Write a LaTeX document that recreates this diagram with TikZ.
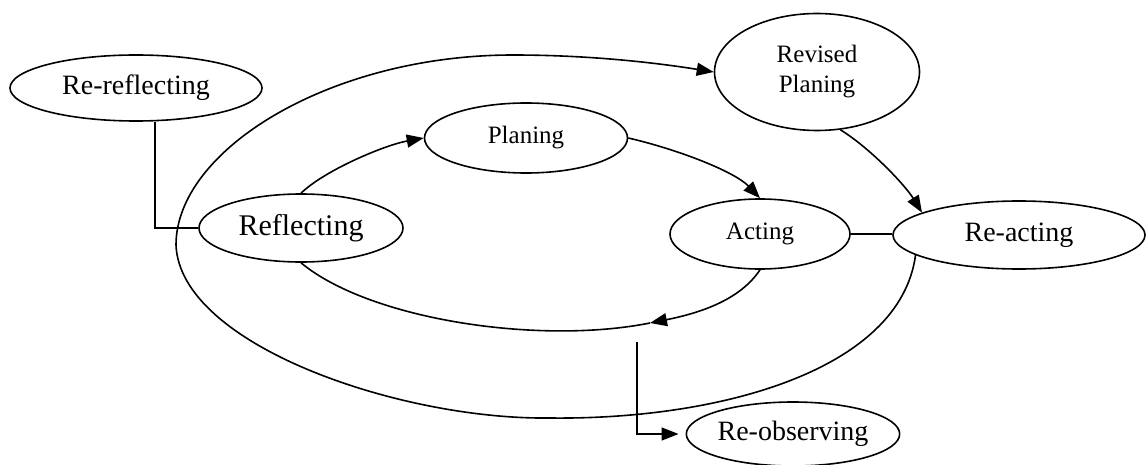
\documentclass[tikz,border=0pt]{standalone}
\usepackage{fontspec}
\setmainfont{Liberation Serif}
\usetikzlibrary{shapes.geometric,arrows.meta}

\begin{document}
\begin{tikzpicture}[x=1pt, y=-1pt,
    stage/.style={draw, ellipse, line width=1.6pt, fill=white, inner sep=0pt, align=center},
    flow/.style={line width=1.6pt, -{Triangle[length=17pt,width=13pt]}},
    link/.style={line width=1.6pt}]

        \useasboundingbox (0,0) rectangle (1147,465);

        % Stages
        \node[stage, minimum width=252pt, minimum height=66pt, font=\fontsize{28}{32}\selectfont] (rerefl) at (136,88) {Re-reflecting};
        \node[stage, minimum width=204pt, minimum height=68pt, font=\fontsize{30}{34}\selectfont] (reflect) at (301,228) {Reflecting};
        \node[stage, minimum width=203pt, minimum height=70pt, font=\fontsize{25}{29}\selectfont] (plan) at (526,138) {Planing};
        \node[stage, minimum width=180pt, minimum height=70pt, font=\fontsize{25}{29}\selectfont] (act) at (760,234) {Acting};
        \node[stage, minimum width=205pt, minimum height=117pt, font=\fontsize{25}{30}\selectfont] (revised) at (817,72) {Revised\\Planing};
        \node[stage, minimum width=252pt, minimum height=68pt, font=\fontsize{28}{32}\selectfont] (react) at (1019,235) {Re-acting};
        \node[stage, minimum width=203pt, minimum height=64pt, font=\fontsize{28}{32}\selectfont] (reobs) at (793,434) {Re-observing};

        % Helper points
        \coordinate (rcorner) at (155,228);
        \coordinate (obstop) at (637,342);
        \coordinate (inmark) at (650,323);
        \coordinate (outlow) at (550,418);
        \coordinate (outleft) at (176,245);
        \coordinate (outtop) at (513,55);

        % Inner cycle
        \draw[flow] (reflect.north) .. controls (325,170) and (385,145) .. (plan.west);
        \draw[flow] (plan.east) .. controls (680,150) and (735,172) .. (act.north);
        \draw[flow] (act.south) .. controls (740,300) and (700,313) .. (inmark);
        \draw[link] (inmark) .. controls (540,345) and (370,320) .. (reflect.south);

        % Outer cycle
        \draw[link] (react.191) .. controls (900,370) and (720,420) .. (outlow)
                    .. controls (400,420) and (180,345) .. (outleft)
                    .. controls (176,150) and (330,55) .. (outtop);
        \draw[flow] (outtop) .. controls (600,55) and (670,65) .. (revised.west);
        \draw[flow] (revised.-68) .. controls (870,148) and (905,185) .. (react.167);

        % Side links
        \draw[link] (act.east) -- (act.east -| react.west);
        \draw[link] (rerefl.south -| rcorner) -- (rcorner) -- (reflect.west);
        \draw[flow, shorten >=7pt] (obstop) |- (reobs.west);

\end{tikzpicture}
\end{document}
